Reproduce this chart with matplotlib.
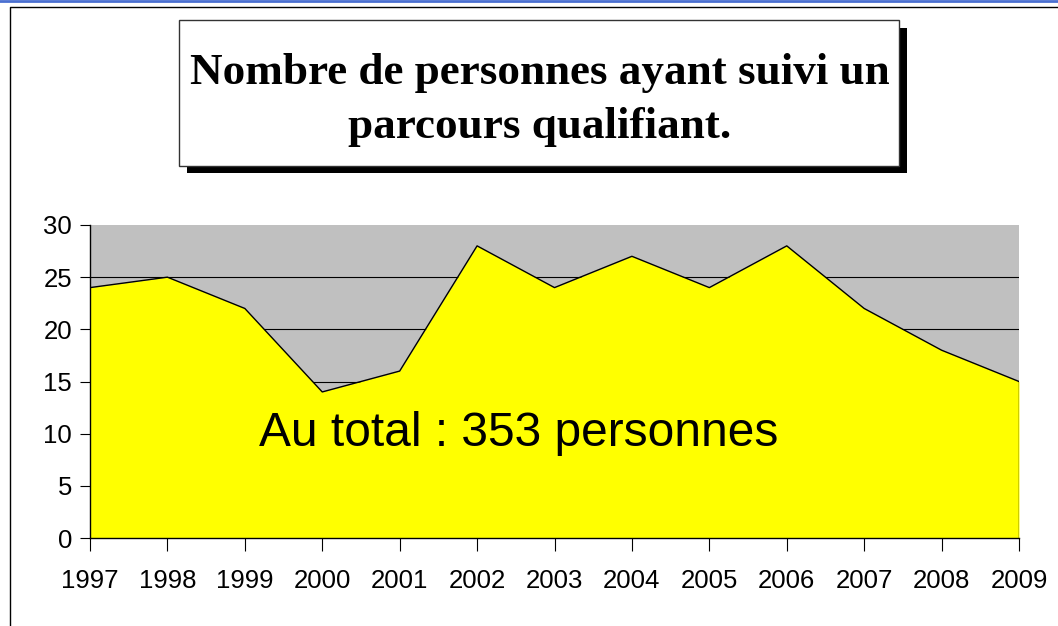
import matplotlib
matplotlib.use("Agg")
import matplotlib.pyplot as plt
from matplotlib.patches import Rectangle
from matplotlib.lines import Line2D

years = ["1997", "1998", "1999", "2000", "2001", "2002", "2003", "2004",
         "2005", "2006", "2007", "2008", "2009"]
values = [24, 25, 22, 14, 16, 28, 24, 27, 24, 28, 22, 18, 15]
yticks = [0, 5, 10, 15, 20, 25, 30]
title = "Nombre de personnes ayant suivi un\nparcours qualifiant."
annotation = "Au total : 353 personnes"

W, H = 1058, 626
fig = plt.figure(figsize=(W / 100, H / 100), dpi=100)
fig.patch.set_facecolor("white")

# outer frame and top blue line
fig.add_artist(Line2D([0, 1], [1 - 1 / H, 1 - 1 / H], transform=fig.transFigure,
                      color="#4a6fd0", lw=2))
fig.add_artist(Line2D([10 / W, 10 / W, 1.0], [0, 1 - 7 / H, 1 - 7 / H],
                      transform=fig.transFigure, color="black", lw=1))

ax = fig.add_axes([90 / W, (H - 538) / H, (1019 - 90) / W, (538 - 225) / H])
ax.set_facecolor("#c0c0c0")
x = list(range(len(years)))
ax.set_xlim(0, len(years) - 1)
ax.set_ylim(0, 30)
for t in yticks[1:-1]:
    ax.axhline(t, color="black", lw=0.8, zorder=1)
ax.fill_between(x, values, 0, color="#ffff00", zorder=2, linewidth=0)
ax.plot(x, values, color="black", lw=1, zorder=3)
ax.plot([x[-1], x[-1]], [0, values[-1]], color="black", lw=1, zorder=3)

ax.set_xticks(x)
ax.set_xticklabels(years, fontsize=18.5, family="Liberation Sans")
ax.set_yticks(yticks)
ax.set_yticklabels([str(t) for t in yticks], fontsize=18.5, family="Liberation Sans")
ax.tick_params(axis="x", direction="out", length=9, width=0.8, pad=13)
ax.tick_params(axis="y", direction="out", length=7, width=0.8, pad=6)
for s in ["top", "right"]:
    ax.spines[s].set_visible(False)
ax.spines["left"].set_linewidth(1)
ax.spines["bottom"].set_linewidth(1)

ax.text(519 / W, (H - 433) / H, annotation, transform=fig.transFigure, ha="center",
        va="center", fontsize=34.5, family="Liberation Sans", zorder=5)

# title box with shadow
fig.add_artist(Rectangle((187 / W, (H - 173) / H), (907 - 187) / W, (173 - 28) / H,
                         transform=fig.transFigure, facecolor="black", edgecolor="none"))
fig.add_artist(Rectangle((179 / W, (H - 166) / H), (899 - 179) / W, (166 - 20) / H,
                         transform=fig.transFigure, facecolor="white",
                         edgecolor="#333333", lw=1))
fig.text(540 / W, (H - 100) / H, title, ha="center", va="center", fontsize=32.5,
         family="Liberation Serif", weight="bold", linespacing=1.45)

fig.savefig("out.png", dpi=100)
